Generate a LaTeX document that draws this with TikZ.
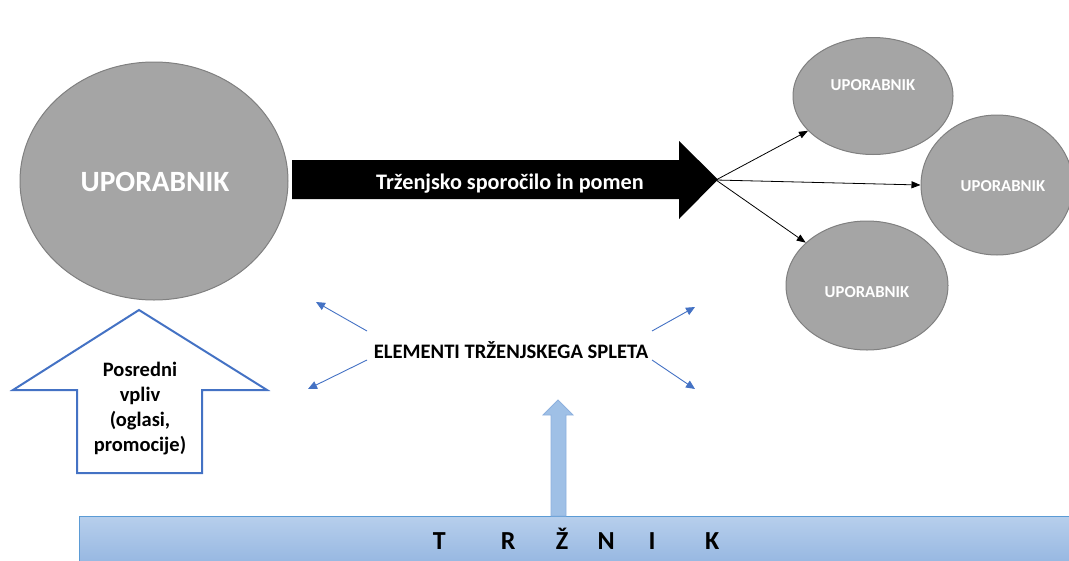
\documentclass[tikz,border=0pt]{standalone}
\usepackage{fontspec}
\setmainfont{Carlito}
\usetikzlibrary{shapes.geometric,arrows.meta}
\definecolor{ugray}{HTML}{A5A5A5}
\definecolor{ugrayb}{HTML}{808080}
\definecolor{mblue}{HTML}{4472C4}
\definecolor{barTop}{HTML}{B7CFEC}
\definecolor{barBot}{HTML}{95B6E1}
\definecolor{barLine}{HTML}{5B9BD5}
\definecolor{upFill}{HTML}{9FC0E6}
\definecolor{upLine}{HTML}{8DB0DE}
\newcommand{\fs}[1]{\fontsize{#1}{#1}\selectfont}
\begin{document}
\begin{tikzpicture}[x=1pt,y=-1pt,
  user/.style={ellipse, draw=ugrayb, fill=ugray, line width=1pt, inner sep=0pt},
  utext/.style={font=\bfseries, text=white, inner sep=0pt},
  blk/.style={-{Triangle[length=9pt,width=7pt]}, line width=0.8pt, black},
  blu/.style={-{Triangle[length=9pt,width=8pt]}, line width=0.9pt, mblue},
  lbl/.style={font=\bfseries, inner sep=0pt}]
\useasboundingbox (0,0) rectangle (1069,560);

% users
\node[user, minimum width=268, minimum height=238] (u0) at (154,181) {};
\node[utext, font=\bfseries\fs{29.4}] (t0) at (155,182) {UPORABNIK};
\node[user, minimum width=160, minimum height=117] (u1) at (873,96) {};
\node[utext, font=\bfseries\fs{16.7}] (t1) at (873,85) {UPORABNIK};
\node[user, minimum width=152, minimum height=140] (u2) at (997,185) {};
\node[utext, font=\bfseries\fs{16.7}] (t2) at (1003,186) {UPORABNIK};
\node[user, minimum width=162, minimum height=129] (u3) at (867,285.5) {};
\node[utext, font=\bfseries\fs{16.7}] (t3) at (867,292) {UPORABNIK};

% big black arrow
\fill[black] (292,160) -- (679,160) -- (679,141) -- (718,179.5) -- (679,219) -- (679,199) -- (292,199) -- cycle;
\coordinate (tip) at (716,180);
\node[utext, font=\bfseries\fs{22.2}] (msg) at (510,184) {Trženjsko sporočilo in pomen};

\draw[blk] (tip) -- (u1);
\draw[blk] (tip) -- (u2.west);
\draw[blk] (tip) -- (u3);

% hollow up arrow
\draw[mblue, line width=2pt, line join=miter, fill=white]
  (139,310) -- (267,390) -- (202,390) -- (202,473) -- (77,473) -- (77,390) -- (13,390) -- cycle;
\node[lbl, font=\bfseries\fontsize{20.5}{25}\selectfont, align=center] (pv) at (140,409)
  {Posredni\\vpliv\\(oglasi,\\promocije)};

% marketing mix
\node[lbl, font=\bfseries\fs{20.6}] (el) at (511,350) {ELEMENTI TRŽENJSKEGA SPLETA};
\coordinate (a1) at (367,331); \coordinate (b1) at (316,302);
\coordinate (a2) at (367,360); \coordinate (b2) at (308,389);
\coordinate (a3) at (652,331); \coordinate (b3) at (695,307);
\coordinate (a4) at (652,360); \coordinate (b4) at (695,389);
\draw[blu] (a1) -- (b1);
\draw[blu] (a2) -- (b2);
\draw[blu] (a3) -- (b3);
\draw[blu] (a4) -- (b4);

% bar
\shade[top color=barTop, bottom color=barBot] (79,516) rectangle (1075,565);
\draw[barLine, line width=1pt] (1075,516) -- (79,516) -- (79,565);
\node[lbl, font=\bfseries\fs{26}, anchor=base west] (trz) at (439,549)
  {\makebox[0pt]{T}\hspace{69pt}\makebox[0pt]{R}\hspace{54pt}\makebox[0pt]{Ž}\hspace{44pt}\makebox[0pt]{N}\hspace{46pt}\makebox[0pt]{I}\hspace{60pt}\makebox[0pt]{K}};

% small up arrow
\draw[upLine, fill=upFill, line width=0.8pt]
  (558,400) -- (573,415) -- (566,415) -- (566,516) -- (551,516) -- (551,415) -- (543,415) -- cycle;
\end{tikzpicture}
\end{document}
